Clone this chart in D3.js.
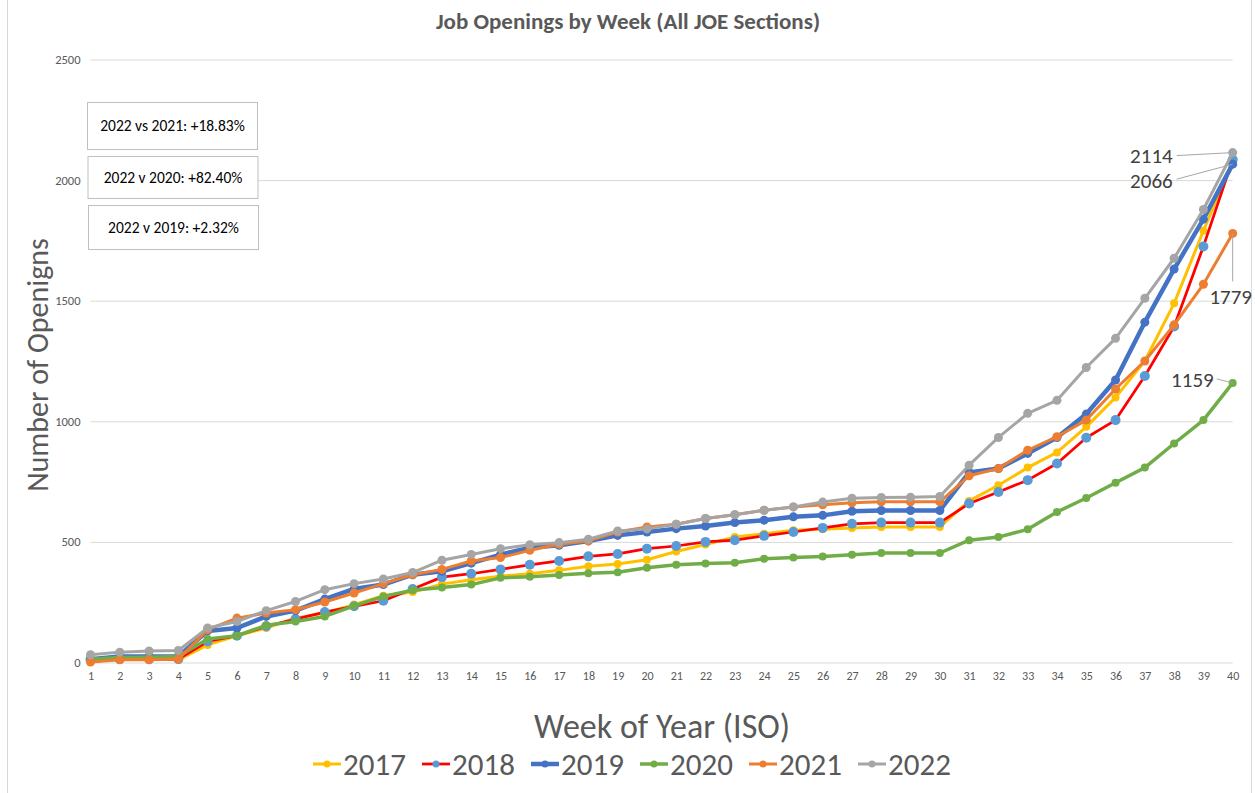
<!DOCTYPE html>
<html>
<head>
<meta charset="utf-8">
<script src="https://cdn.jsdelivr.net/npm/d3@7"></script>
<style>
  body { margin: 0; background: #fff; }
  text { font-family: Carlito, Calibri, Lato, sans-serif; }
</style>
</head>
<body>
<div id="chart"></div>
<script>
var weeks = [1,2,3,4,5,6,7,8,9,10,11,12,13,14,15,16,17,18,19,20,
             21,22,23,24,25,26,27,28,29,30,31,32,33,34,35,36,37,38,39,40];

var years = ['2017', '2018', '2019', '2020', '2021', '2022'];

var v2017 = [4,12,14,11,73,111,143,184,205,240,277,292,325,343,358,368,382,399,408,426,
             460,489,520,534,548,552,558,562,562,562,670,735,808,871,977,1099,1250,1489,1790,2078];
var v2018 = [11,14,14,14,87,111,150,180,209,233,256,305,354,368,386,405,421,440,450,472,
             483,500,507,525,541,558,575,580,580,580,659,707,756,825,932,1005,1188,1393,1725,2085];
var v2019 = [14,25,25,25,131,143,191,215,263,305,323,364,378,412,447,476,486,504,527,541,
             555,566,580,590,604,610,627,630,630,630,788,804,867,933,1030,1171,1411,1631,1838,2066];
var v2020 = [14,21,22,25,97,111,154,170,191,235,274,300,311,323,351,356,363,370,374,393,
             405,410,414,430,435,439,447,454,454,454,507,520,552,624,682,745,808,908,1005,1159];
var v2021 = [2,11,11,14,136,184,205,219,251,288,327,364,386,421,435,465,490,504,541,562,
             573,597,613,631,645,654,662,666,666,666,774,804,880,936,1005,1134,1250,1400,1568,1779];
var v2022 = [32,43,48,50,143,170,215,253,302,327,346,373,424,448,472,488,497,511,545,554,
             573,597,613,631,645,665,681,684,685,688,818,933,1033,1087,1223,1344,1510,1676,1878,2114];

var yTicks = [0, 500, 1000, 1500, 2000, 2500];

var notes = ['2022 vs 2021: +18.83%', '2022 v 2020: +82.40%', '2022 v 2019: +2.32%'];

var allValues = [v2017, v2018, v2019, v2020, v2021, v2022];

var lineColors = ['#FFC000', '#FF0000', '#4472C4', '#70AD47', '#ED7D31', '#A5A5A5'];
var markColors = ['#FFC000', '#5B9BD5', '#4472C4', '#70AD47', '#ED7D31', '#A5A5A5'];
var lineWidths = [3, 2.75, 4.5, 3.5, 3, 3];
var markR = [4, 5, 4.5, 4, 4.5, 4.5];

var width = 1255, height = 793;

var svg = d3.select('#chart')
    .append('svg')
    .attr('width', width)
    .attr('height', height);

// outer chart border (only the sides show)
svg.append('rect')
    .attr('x', 7.5).attr('y', -5)
    .attr('width', 1244).attr('height', 810)
    .attr('fill', 'none')
    .attr('stroke', '#d9d9d9');

var x = d3.scalePoint()
    .domain(weeks)
    .range([90.5, 1232.7]);

var y = d3.scaleLinear()
    .domain([0, 2500])
    .range([662.5, 59.5]);

// gridlines + y labels
var yAxis = d3.axisLeft(y)
    .tickValues(yTicks)
    .tickSize(-(1232.7 - 90.5))
    .tickPadding(10)
    .tickFormat(d3.format('d'));

var gy = svg.append('g')
    .attr('transform', 'translate(90.5,0)')
    .call(yAxis);
gy.select('.domain').remove();
gy.selectAll('.tick line').attr('stroke', '#d9d9d9').attr('stroke-width', 1);
gy.selectAll('.tick text')
    .attr('fill', '#595959')
    .style('font-size', '12.5px');

var xAxis = d3.axisBottom(x)
    .tickSize(0)
    .tickPadding(9);

var gx = svg.append('g')
    .attr('transform', 'translate(0,662.5)')
    .call(xAxis);
gx.select('.domain').remove();
gx.selectAll('.tick text')
    .attr('fill', '#595959')
    .style('font-size', '12px');

// title
svg.append('text')
    .attr('x', 628)
    .attr('y', 29)
    .attr('text-anchor', 'middle')
    .attr('fill', '#595959')
    .style('font-size', '23px')
    .style('font-weight', 700)
    .text('Job Openings by Week (All JOE Sections)');

// axis titles
svg.append('text')
    .attr('transform', 'translate(48,365) rotate(-90)')
    .attr('text-anchor', 'middle')
    .attr('fill', '#595959')
    .style('font-size', '30px')
    .text('Number of Openigns');

svg.append('text')
    .attr('x', 662)
    .attr('y', 738)
    .attr('text-anchor', 'middle')
    .attr('fill', '#595959')
    .style('font-size', '34px')
    .text('Week of Year (ISO)');

// series
var line = d3.line()
    .x((d, i) => x(weeks[i]))
    .y(d => y(d));

allValues.forEach(function (vals, k) {
    var g = svg.append('g');
    g.append('path')
        .datum(vals)
        .attr('d', line)
        .attr('fill', 'none')
        .attr('stroke', lineColors[k])
        .attr('stroke-width', lineWidths[k])
        .attr('stroke-linejoin', 'round');
    g.selectAll('circle')
        .data(vals)
        .enter()
        .append('circle')
        .attr('cx', (d, i) => x(weeks[i]))
        .attr('cy', d => y(d))
        .attr('r', markR[k])
        .attr('fill', markColors[k]);
});

// data labels at week 40
var last = weeks.length - 1;
var labels = [
    { v: v2022[last], dx: -60, dy: 3, lx: -56, ly: 3, anchor: 'end' },
    { v: v2019[last], dx: -60, dy: 16, lx: -56, ly: 15, anchor: 'end' },
    { v: v2021[last], dx: -2, dy: 63, lx: 0, ly: 48, anchor: 'middle' },
    { v: v2020[last], dx: -19, dy: -3, lx: -16, ly: -4, anchor: 'end' }
];
labels.forEach(function (l) {
    var px = x(weeks[last]), py = y(l.v);
    svg.append('line')
        .attr('x1', px + l.lx).attr('y1', py + l.ly)
        .attr('x2', px).attr('y2', py)
        .attr('stroke', '#a6a6a6')
        .attr('stroke-width', 1);
    svg.append('text')
        .attr('x', px + l.dx)
        .attr('y', py + l.dy)
        .attr('dy', '0.35em')
        .attr('text-anchor', l.anchor)
        .attr('fill', '#404040')
        .style('font-size', '21px')
        .text(l.v);
});

// comparison boxes
var boxes = svg.append('g').selectAll('g')
    .data(notes)
    .enter()
    .append('g')
    .attr('transform', (d, i) => 'translate(' + [87.5, 102.5, 88, 156.5, 88.5, 205.5].slice(i * 2, i * 2 + 2) + ')');

boxes.append('rect')
    .attr('width', 170)
    .attr('height', (d, i) => [47, 42, 44][i])
    .attr('fill', '#fff')
    .attr('stroke', '#bfbfbf');

boxes.append('text')
    .attr('x', 85)
    .attr('y', (d, i) => [47, 42, 44][i] / 2)
    .attr('dy', '0.35em')
    .attr('text-anchor', 'middle')
    .attr('fill', '#000')
    .style('font-size', '15.5px')
    .text(d => d);

// legend
var legend = svg.append('g').selectAll('g')
    .data(years)
    .enter()
    .append('g')
    .attr('transform', (d, i) => 'translate(' + (313 + i * 109) + ',764)');

legend.append('line')
    .attr('x1', 0).attr('x2', 28)
    .attr('stroke', (d, i) => lineColors[i])
    .attr('stroke-width', (d, i) => lineWidths[i]);

legend.append('circle')
    .attr('cx', 14)
    .attr('r', 3.5)
    .attr('fill', (d, i) => markColors[i]);

legend.append('text')
    .attr('x', 30)
    .attr('dy', '0.35em')
    .attr('fill', '#595959')
    .style('font-size', '31px')
    .text(d => d);
</script>
</body>
</html>
